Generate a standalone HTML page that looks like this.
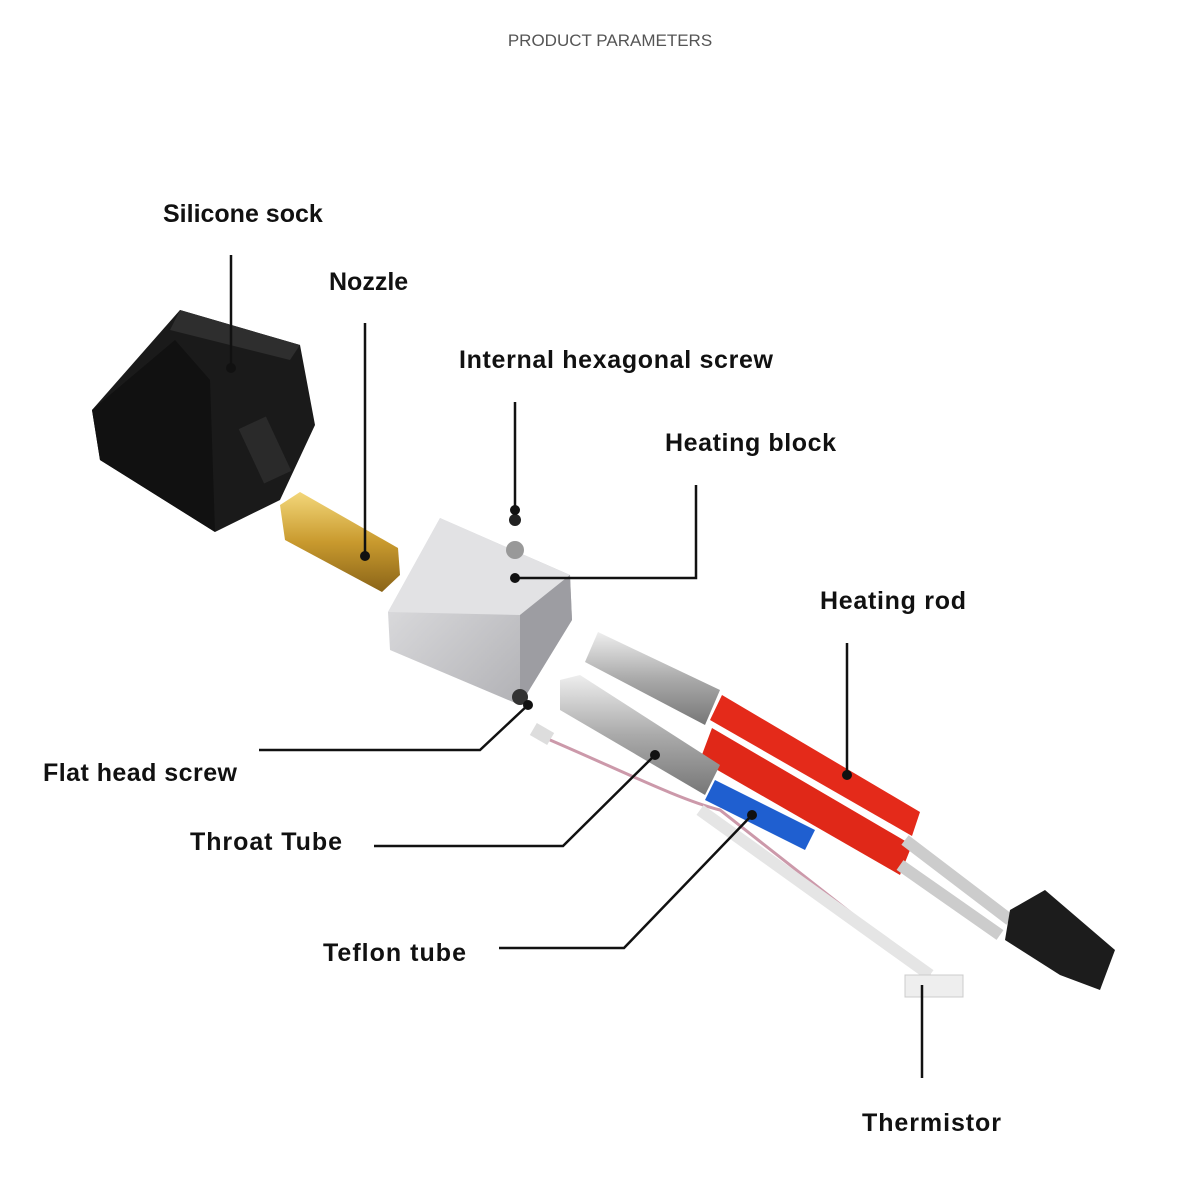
<!DOCTYPE html>
<html><head><meta charset="utf-8"><style>
html,body{margin:0;padding:0;background:#fff}
svg{display:block}
text.l{font-family:"Liberation Sans",sans-serif;font-weight:bold;font-size:25px;fill:#111}
</style></head><body>
<svg width="1200" height="1200" viewBox="0 0 1200 1200" xmlns="http://www.w3.org/2000/svg">
<defs>
<linearGradient id="al" x1="0" y1="0" x2="1" y2="1"><stop offset="0" stop-color="#e8e8ea"/><stop offset="1" stop-color="#a9a9ad"/></linearGradient>
<linearGradient id="br" x1="0" y1="0" x2="0" y2="1"><stop offset="0" stop-color="#f3d77a"/><stop offset=".5" stop-color="#c99a2e"/><stop offset="1" stop-color="#8a6418"/></linearGradient>
<linearGradient id="st" x1="0" y1="0" x2="0" y2="1"><stop offset="0" stop-color="#eee"/><stop offset=".5" stop-color="#aaa"/><stop offset="1" stop-color="#777"/></linearGradient>
</defs>
<text x="610" y="46" text-anchor="middle" font-family="Liberation Sans,sans-serif" font-size="17" fill="#555">PRODUCT PARAMETERS</text>
<!-- silicone sock -->
<polygon points="92,410 180,310 300,345 315,425 280,500 215,532 100,460" fill="#1a1a1a"/>
<polygon points="180,310 300,345 290,360 170,330" fill="#2e2e2e"/>
<polygon points="92,410 175,340 210,380 215,532 100,460" fill="#111"/>
<rect x="250" y="420" width="30" height="60" fill="#2a2a2a" transform="rotate(-25 265 450)"/>
<!-- nozzle -->
<polygon points="280,505 300,492 398,548 400,575 382,592 285,540" fill="url(#br)"/>
<!-- heating block -->
<polygon points="388,612 440,518 570,575 572,620 520,705 390,650" fill="url(#al)"/>
<polygon points="440,518 570,575 520,615 388,612" fill="#e2e2e4"/>
<polygon points="520,615 570,575 572,620 520,705" fill="#9d9da2"/>
<circle cx="515" cy="550" r="9" fill="#999"/>
<circle cx="515" cy="520" r="6" fill="#222"/>
<circle cx="520" cy="697" r="8" fill="#333"/>
<!-- heater cartridge -->
<polygon points="598,632 720,690 705,725 585,662" fill="url(#st)"/>
<polygon points="722,695 920,812 912,836 710,720" fill="#e42a1a"/>
<polygon points="712,728 912,845 900,875 700,760" fill="#e02818"/>
<path d="M905,840 L1010,920 M900,865 L1000,935" stroke="#ccc" stroke-width="12" fill="none"/>
<polygon points="1010,910 1045,890 1115,950 1100,990 1060,975 1005,940" fill="#1c1c1c"/>
<!-- throat tube -->
<polygon points="560,680 580,675 720,765 705,795 560,710" fill="url(#st)"/>
<polygon points="715,780 815,830 805,850 705,800" fill="#1f5fd0"/>
<rect x="532" y="727" width="20" height="14" fill="#ddd" transform="rotate(30 542 734)"/>
<path d="M550,740 C620,770 680,800 720,810 L930,975" stroke="#c9a" stroke-width="3" fill="none"/>
<path d="M700,810 L930,975" stroke="#e5e5e5" stroke-width="12" fill="none"/>
<rect x="905" y="975" width="58" height="22" fill="#eee" stroke="#ccc"/>
<!-- lines -->
<g stroke="#111" stroke-width="2.5" fill="none">
<path d="M231,255 V368"/><path d="M365,323 V556"/><path d="M515,402 V510"/>
<path d="M696,485 V578 H515"/><path d="M847,643 V775"/>
<path d="M259,750 H480 L528,705"/><path d="M374,846 H563 L655,755"/>
<path d="M499,948 H624 L752,815"/><path d="M922,985 V1078"/>
</g>
<g fill="#111"><circle cx="231" cy="368" r="5"/><circle cx="365" cy="556" r="5"/><circle cx="515" cy="510" r="5"/><circle cx="515" cy="578" r="5"/><circle cx="847" cy="775" r="5"/><circle cx="528" cy="705" r="5"/><circle cx="655" cy="755" r="5"/><circle cx="752" cy="815" r="5"/></g>
<text class="l" x="163" y="222">Silicone sock</text>
<text class="l" x="329" y="290">Nozzle</text>
<text class="l" x="459" y="368" textLength="314">Internal hexagonal screw</text>
<text class="l" x="665" y="451" textLength="171">Heating block</text>
<text class="l" x="820" y="609" textLength="146">Heating rod</text>
<text class="l" x="43" y="781" textLength="194">Flat head screw</text>
<text class="l" x="190" y="850" textLength="152">Throat Tube</text>
<text class="l" x="323" y="961" textLength="143">Teflon tube</text>
<text class="l" x="862" y="1131" textLength="139">Thermistor</text>
</svg>
</body></html>
